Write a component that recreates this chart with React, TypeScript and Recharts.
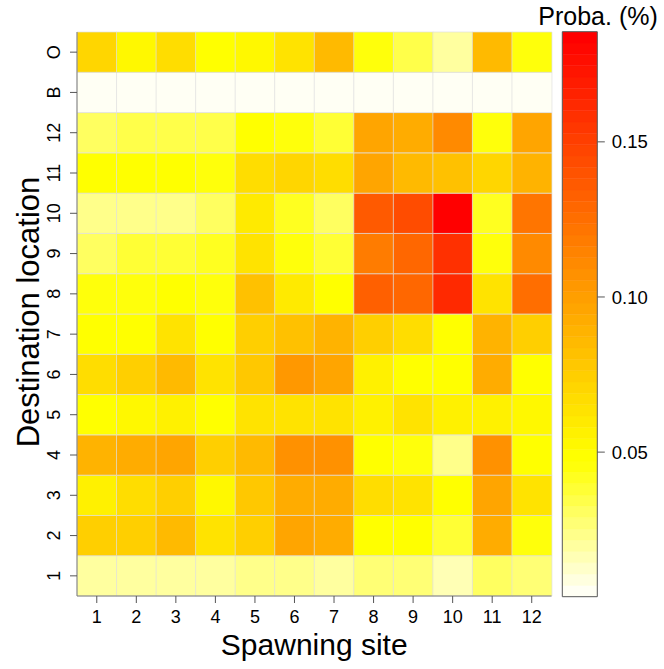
import React from 'react'
import {
  BarChart,
  Bar,
  Cell,
  XAxis,
  YAxis,
  ComposedChart,
  ReferenceArea,
} from 'recharts'

// Connectivity matrix: probability that larvae from a spawning site (columns)
// end up at a destination location (rows). B and O are extra destinations.
const SITES = ['1', '2', '3', '4', '5', '6', '7', '8', '9', '10', '11', '12']
const DESTS = ['1', '2', '3', '4', '5', '6', '7', '8', '9', '10', '11', '12', 'B', 'O']

const D1 = [0.021, 0.021, 0.02, 0.02, 0.022, 0.022, 0.021, 0.027, 0.027, 0.015, 0.03, 0.027]
const D2 = [0.073, 0.073, 0.086, 0.064, 0.073, 0.096, 0.094, 0.049, 0.048, 0.038, 0.092, 0.046]
const D3 = [0.055, 0.067, 0.073, 0.053, 0.078, 0.092, 0.093, 0.068, 0.062, 0.05, 0.095, 0.064]
const D4 = [0.09, 0.092, 0.098, 0.074, 0.087, 0.109, 0.108, 0.05, 0.046, 0.024, 0.109, 0.049]
const D5 = [0.049, 0.051, 0.056, 0.049, 0.062, 0.062, 0.063, 0.055, 0.064, 0.055, 0.056, 0.053]
const D6 = [0.067, 0.073, 0.087, 0.063, 0.078, 0.102, 0.096, 0.058, 0.049, 0.049, 0.093, 0.049]
const D7 = [0.048, 0.048, 0.062, 0.048, 0.073, 0.083, 0.09, 0.073, 0.066, 0.048, 0.09, 0.073]
const D8 = [0.045, 0.046, 0.048, 0.045, 0.08, 0.059, 0.05, 0.134, 0.129, 0.163, 0.064, 0.127]
const D9 = [0.03, 0.038, 0.038, 0.04, 0.065, 0.044, 0.038, 0.118, 0.129, 0.159, 0.044, 0.112]
const D10 = [0.024, 0.022, 0.024, 0.03, 0.06, 0.042, 0.03, 0.136, 0.145, 0.1855, 0.042, 0.123]
const D11 = [0.048, 0.049, 0.048, 0.047, 0.068, 0.07, 0.068, 0.095, 0.087, 0.083, 0.071, 0.09]
const D12 = [0.03, 0.033, 0.033, 0.035, 0.048, 0.044, 0.038, 0.096, 0.092, 0.112, 0.044, 0.096]
const DB = [0.0034, 0.0036, 0.0035, 0.0034, 0.0036, 0.0035, 0.0036, 0.0037, 0.0036, 0.0035, 0.0036, 0.0035]
const DO = [0.07, 0.051, 0.067, 0.05, 0.051, 0.065, 0.085, 0.046, 0.034, 0.018, 0.084, 0.046]

const CB_TICKS = [0.05, 0.1, 0.15]

const ROWS = [D1, D2, D3, D4, D5, D6, D7, D8, D9, D10, D11, D12, DB, DO]
const ALL = ROWS.flat()
const MIN = Math.min(...ALL)
const MAX = Math.max(...ALL)

// rev(heat.colors(n)) as in R
const N_COLORS = 50
function heatPalette(n: number): string[] {
  const j = Math.floor(n / 4)
  const i = n - j
  const out: string[] = []
  for (let m = 0; m < i; m++) {
    const g = Math.round(255 * (m / (i - 1)))
    out.push(`rgb(255,${g},0)`)
  }
  const s0 = 1 - 1 / (2 * j)
  const s1 = 1 / (2 * j)
  for (let m = 0; m < j; m++) {
    const s = j > 1 ? s0 + (m * (s1 - s0)) / (j - 1) : s0
    out.push(`rgb(255,255,${Math.round(255 * (1 - s))})`)
  }
  return out.reverse()
}
const PALETTE = heatPalette(N_COLORS)
const STEP = (MAX - MIN) / N_COLORS

function colorFor(v: number) {
  const k = Math.min(N_COLORS - 1, Math.max(0, Math.floor((v - MIN) / STEP)))
  return PALETTE[k]
}

const DATA = SITES.map((site) => {
  const row: Record<string, string | number> = { site }
  DESTS.forEach((_, r) => (row[`r${r}`] = 1))
  return row
})

const FONT = '"Liberation Sans", Arial, Helvetica, sans-serif'
const BOX = '#7a7a7a'

const YTick = (props: any) => {
  const { x, y, payload } = props
  return (
    <text
      x={x}
      y={y}
      transform={`rotate(-90 ${x} ${y})`}
      textAnchor="middle"
      fontSize={18}
      fontFamily={FONT}
      fill="#000"
    >
      {DESTS[Math.floor(payload.value)]}
    </text>
  )
}

export default function App() {
  return (
    <div style={{ position: 'absolute', left: 0, top: 0, width: 664, height: 669, background: '#fff' }}>
      <div style={{ position: 'absolute', left: 0, top: 0 }}>
        <BarChart
          width={664}
          height={669}
          data={DATA}
          margin={{ top: 32, right: 112.5, bottom: 13, left: 27 }}
          barCategoryGap={0}
          barGap={0}
        >
          <XAxis
            dataKey="site"
            height={60}
            stroke={BOX}
            tickSize={7}
            tickMargin={7}
            tick={{ fontSize: 18, fill: '#000', fontFamily: FONT }}
            tickLine={{ stroke: '#555' }}
            axisLine={{ stroke: BOX }}
            label={{
              content: ({ viewBox }: any) => (
                <text
                  x={viewBox.x + viewBox.width / 2}
                  y={viewBox.y + 59}
                  textAnchor="middle"
                  fontSize={30}
                  fontFamily={FONT}
                  fill="#000"
                >
                  Spawning site
                </text>
              ),
            }}
          />
          <XAxis xAxisId="top" dataKey="site" orientation="top" height={0} tick={false} tickLine={false} axisLine={{ stroke: BOX }} />
          <YAxis
            type="number"
            domain={[0, DESTS.length]}
            ticks={DESTS.map((_, i) => i + 0.5)}
            width={50}
            tickSize={7}
            tickMargin={10}
            tick={<YTick />}
            tickLine={{ stroke: '#555' }}
            axisLine={{ stroke: BOX }}
            label={{
              content: ({ viewBox }: any) => {
                const cx = 39
                const cy = viewBox.y + viewBox.height / 2 - 2
                return (
                  <text
                    x={cx}
                    y={cy}
                    transform={`rotate(-90 ${cx} ${cy})`}
                    textAnchor="middle"
                    fontSize={31}
                    fontFamily={FONT}
                    fill="#000"
                  >
                    Destination location
                  </text>
                )
              },
            }}
          />
          <YAxis
            yAxisId="right"
            orientation="right"
            type="number"
            domain={[0, DESTS.length]}
            width={0}
            tick={false}
            tickLine={false}
            axisLine={{ stroke: BOX }}
          />
          {ROWS.map((vals, r) => (
            <Bar
              key={DESTS[r]}
              dataKey={`r${r}`}
              stackId="cells"
              stroke="rgba(222,222,222,0.85)"
              strokeWidth={0.8}
              isAnimationActive={false}
            >
              {vals.map((v, c) => (
                <Cell key={c} fill={colorFor(v)} />
              ))}
            </Bar>
          ))}
        </BarChart>
      </div>
      <div style={{ position: 'absolute', left: 0, top: 0 }}>
        <ComposedChart
          width={664}
          height={669}
          data={[{ x: 0 }, { x: 1 }]}
          margin={{ top: 31.7, right: 6.7, bottom: 72.3, left: 562.3 }}
        >
          <XAxis dataKey="x" type="number" domain={[0, 1]} hide />
          <YAxis
            orientation="right"
            type="number"
            domain={[MIN, MAX]}
            allowDataOverflow
            ticks={CB_TICKS}
            tickFormatter={(v: number) => v.toFixed(2)}
            width={60}
            tickSize={7.5}
            tickMargin={7}
            axisLine={false}
            tickLine={{ stroke: '#555' }}
            tick={{ fontSize: 18.5, fill: '#000', fontFamily: FONT }}
            label={{
              content: ({ viewBox }: any) => (
                <text
                  x={viewBox.x - 59}
                  y={viewBox.y - 7}
                  textAnchor="start"
                  fontSize={25}
                  fontFamily={FONT}
                  fill="#000"
                >
                  Proba. (%)
                </text>
              ),
            }}
          />
          {PALETTE.map((col, k) => (
            <ReferenceArea
              key={k}
              y1={MIN + k * STEP}
              y2={MIN + (k + 1) * STEP}
              fill={col}
              fillOpacity={1}
              stroke={col}
              strokeWidth={0.5}
              ifOverflow="hidden"
            />
          ))}
          <ReferenceArea y1={MIN} y2={MAX} fill="none" stroke="#555" strokeWidth={1} />
        </ComposedChart>
      </div>
    </div>
  )
}
